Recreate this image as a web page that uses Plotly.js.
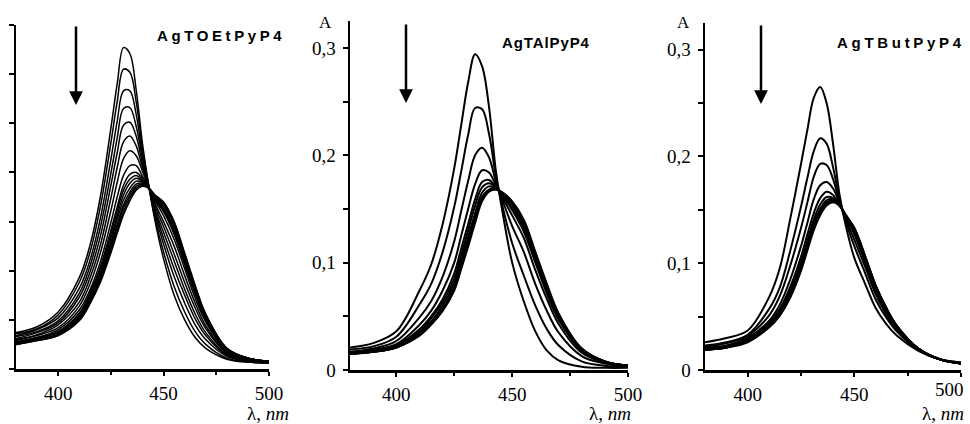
<!DOCTYPE html>
<html>
<head>
<meta charset="utf-8">
<script src="https://cdn.plot.ly/plotly-3.0.1.min.js"></script>
<style>
html,body{margin:0;padding:0;background:#fff;}
#chart{width:970px;height:424px;}
</style>
</head>
<body>
<div id="chart"></div>
<script>
// ---- DATA ----
const WAVELENGTHS = [380,390,400,410,415,420,425,428,431,434,437,440,443,446,450,455,460,465,470,480,490,500];

// Panel 1: AgTOEtPyP4 (absorbance, no y labels in the reference)
const AgTOEtPyP4 = [
  [.037,.043,.058,.093,.125,.175,.245,.290,.327,.321,.284,.229,.186,.150,.112,.075,.050,.032,.021,.010,.007,.006],
  [.036,.041,.055,.088,.118,.165,.230,.272,.305,.302,.272,.224,.186,.153,.119,.084,.058,.038,.025,.011,.007,.006],
  [.034,.040,.052,.082,.110,.153,.213,.252,.283,.283,.259,.218,.186,.157,.127,.094,.067,.045,.030,.013,.008,.006],
  [.033,.038,.049,.077,.104,.144,.199,.235,.265,.266,.247,.214,.185,.160,.133,.102,.075,.051,.034,.014,.008,.007],
  [.031,.037,.047,.073,.098,.135,.187,.220,.248,.251,.237,.209,.185,.162,.139,.110,.081,.056,.037,.015,.009,.007],
  [.030,.035,.045,.068,.092,.126,.174,.205,.231,.237,.227,.205,.185,.165,.145,.117,.088,.062,.041,.016,.009,.007],
  [.029,.034,.042,.064,.086,.118,.161,.190,.214,.222,.217,.201,.185,.168,.150,.125,.095,.067,.044,.017,.010,.007],
  [.028,.032,.040,.060,.080,.109,.149,.175,.197,.207,.207,.196,.185,.171,.156,.132,.102,.072,.048,.018,.010,.008],
  [.027,.032,.038,.057,.077,.104,.141,.165,.187,.198,.200,.194,.184,.172,.160,.137,.106,.076,.050,.019,.010,.008],
  [.027,.031,.038,.056,.075,.101,.137,.161,.182,.193,.197,.192,.184,.173,.161,.139,.108,.077,.051,.019,.010,.008],
  [.026,.031,.037,.054,.073,.098,.133,.156,.177,.189,.194,.191,.184,.174,.163,.141,.110,.079,.052,.020,.010,.008],
  [.026,.030,.036,.053,.071,.096,.129,.152,.172,.184,.191,.190,.184,.175,.165,.143,.112,.080,.053,.020,.011,.008],
  [.026,.030,.035,.052,.070,.093,.126,.147,.167,.180,.188,.189,.184,.175,.167,.146,.114,.082,.054,.020,.011,.008],
  [.025,.030,.035,.051,.068,.091,.123,.144,.164,.177,.186,.188,.184,.176,.168,.147,.115,.083,.055,.021,.011,.008],
  [.025,.029,.034,.050,.067,.090,.121,.141,.160,.174,.184,.187,.184,.176,.169,.149,.117,.084,.055,.021,.011,.008],
  [.025,.029,.034,.049,.066,.088,.118,.138,.157,.171,.182,.186,.184,.177,.170,.150,.118,.085,.056,.021,.011,.008]
];

// Panel 2: AgTAlPyP4
const AgTAlPyP4 = [
  [.021,.025,.036,.074,.098,.136,.188,.228,.268,.294,.283,.245,.185,.145,.100,.064,.036,.018,.009,.003,.002,.002],
  [.019,.022,.031,.061,.080,.110,.152,.185,.219,.244,.243,.220,.180,.151,.118,.088,.060,.038,.023,.008,.004,.003],
  [.017,.020,.027,.049,.064,.087,.120,.148,.176,.200,.207,.198,.175,.157,.134,.110,.080,.055,.035,.013,.006,.003],
  [.016,.019,.024,.042,.055,.074,.100,.125,.150,.173,.186,.184,.172,.160,.144,.123,.093,.066,.043,.016,.007,.004],
  [.016,.018,.023,.038,.050,.066,.090,.113,.136,.159,.175,.177,.170,.162,.149,.129,.100,.071,.047,.018,.007,.004],
  [.016,.018,.022,.036,.048,.063,.085,.107,.130,.153,.170,.174,.170,.163,.151,.132,.103,.074,.049,.018,.007,.004],
  [.015,.017,.022,.035,.045,.060,.081,.102,.124,.146,.165,.171,.169,.164,.154,.135,.106,.076,.050,.019,.008,.004],
  [.015,.017,.021,.033,.044,.057,.077,.098,.120,.142,.161,.168,.169,.164,.155,.138,.108,.078,.052,.020,.008,.004],
  [.015,.017,.021,.033,.043,.056,.076,.096,.117,.140,.159,.167,.168,.165,.156,.139,.109,.079,.052,.020,.008,.004],
  [.015,.017,.021,.032,.042,.055,.074,.094,.115,.137,.157,.166,.168,.165,.157,.140,.110,.080,.053,.020,.008,.004]
];

// Panel 3: AgTButPyP4
const AgTButPyP4 = [
  [.026,.030,.037,.068,.095,.142,.193,.225,.255,.265,.250,.212,.165,.135,.105,.081,.058,.043,.032,.018,.010,.007],
  [.023,.026,.033,.057,.077,.112,.153,.180,.205,.217,.212,.190,.161,.139,.116,.091,.066,.049,.036,.019,.010,.007],
  [.022,.025,.032,.051,.069,.098,.133,.157,.181,.193,.192,.179,.158,.141,.122,.097,.071,.052,.037,.019,.010,.006],
  [.021,.023,.030,.046,.061,.085,.116,.138,.160,.173,.176,.170,.157,.143,.127,.101,.074,.055,.039,.020,.010,.006],
  [.020,.022,.029,.044,.057,.078,.106,.127,.147,.161,.167,.164,.155,.144,.129,.104,.076,.056,.040,.020,.010,.006],
  [.020,.022,.029,.042,.055,.074,.101,.121,.141,.155,.162,.161,.155,.144,.131,.105,.077,.057,.040,.020,.010,.006],
  [.019,.021,.028,.041,.053,.072,.098,.118,.137,.151,.159,.160,.155,.145,.132,.106,.078,.057,.041,.020,.010,.006],
  [.019,.021,.027,.041,.052,.070,.096,.115,.135,.149,.157,.159,.154,.145,.132,.106,.079,.058,.041,.020,.010,.006],
  [.019,.021,.027,.040,.051,.069,.094,.114,.133,.147,.155,.158,.154,.145,.133,.107,.079,.058,.041,.020,.010,.006],
  [.019,.021,.026,.040,.051,.068,.093,.112,.131,.145,.154,.157,.154,.145,.133,.107,.079,.058,.041,.020,.010,.006]
];

const PANEL_NAMES = ['AgTOEtPyP4','AgTAlPyP4','AgTButPyP4'];
const X_TICKS = [400,450,500];
const X_TICK_TEXT = ['400','450','500'];
const Y_TICKS = [0,0.1,0.2,0.3];
const Y_TICK_TEXT = ['0','0,1','0,2','0,3'];

// ---- BUILD ----
const W = 970, H = 424;
const px = v => v / W;
const py = v => 1 - v / H;

const traces = [];
function addPanel(curves, xa, ya, lw){
  curves.forEach(c => traces.push({
    x: WAVELENGTHS, y: c, xaxis: xa, yaxis: ya, type: 'scatter', mode: 'lines',
    line: {color: '#000', width: lw, shape: 'spline', smoothing: 1},
    hoverinfo: 'skip', showlegend: false
  }));
}
addPanel(AgTOEtPyP4, 'x', 'y', 1.5);
addPanel(AgTAlPyP4, 'x2', 'y2', 2);
addPanel(AgTButPyP4, 'x3', 'y3', 2);

const serif = '"Liberation Serif", "Times New Roman", serif';
function xAxis(d0, d1, anchor, hideLast){
  return {
    domain: [px(d0), px(d1)], anchor: anchor, range: [380, 500],
    tickmode: 'array', tickvals: X_TICKS,
    ticktext: X_TICK_TEXT.map((t, i) => (hideLast && i === X_TICK_TEXT.length - 1) ? '' : t),
    ticks: 'outside', ticklen: 4, tickwidth: 2, tickcolor: '#000',
    minor: {tickmode: 'linear', tick0: 0, dtick: 25, ticks: 'outside', ticklen: 3, tickwidth: 2, tickcolor: '#000'},
    showline: true, linewidth: 2.5, linecolor: '#000', showgrid: false, zeroline: false,
    tickfont: {family: serif, size: 19, color: '#000'}, ticklabelstandoff: 2, fixedrange: true
  };
}
function yAxis(top, bottom, anchor, range, labels){
  const a = {
    domain: [py(bottom), py(top)], anchor: anchor, range: range,
    ticks: 'outside', ticklen: 5, tickwidth: 2, tickcolor: '#000',
    showline: true, linewidth: 2.5, linecolor: '#000', showgrid: false, zeroline: false,
    tickfont: {family: serif, size: 19, color: '#000'}, fixedrange: true
  };
  if (labels){
    a.tickmode = 'array'; a.tickvals = Y_TICKS; a.ticktext = Y_TICK_TEXT;
    a.minor = {tickmode: 'linear', tick0: 0, dtick: 0.05, ticks: 'outside', ticklen: 5, tickwidth: 2, tickcolor: '#000'};
    a.ticklabelstandoff = 3;
  } else {
    a.tickmode = 'linear'; a.tick0 = 0; a.dtick = 0.05; a.showticklabels = false;
  }
  return a;
}

const annotations = [];
// panel titles
const titlePos = [[155, 36, 3.6], [500, 43, 0.9], [835, 43, 3.7]];
PANEL_NAMES.forEach((n, i) => annotations.push({
  xref: 'paper', yref: 'paper', x: px(titlePos[i][0]), y: py(titlePos[i][1]),
  xanchor: 'left', yanchor: 'middle', showarrow: false,
  text: '<span style="letter-spacing:' + titlePos[i][2] + 'px">' + n + '</span>',
  font: {family: '"Liberation Sans", Arial, sans-serif', size: 15, color: '#000', weight: 'bold'}
}));
// last tick label of the third panel, pulled inside the page as in the reference
annotations.push({
  xref: 'paper', yref: 'paper', x: px(966), y: py(389), xanchor: 'right', yanchor: 'middle',
  showarrow: false, text: X_TICK_TEXT[2], font: {family: serif, size: 19, color: '#000'}
});
// axis labels
[[291, 413], [633, 413], [966, 413]].forEach(p => annotations.push({
  xref: 'paper', yref: 'paper', x: px(p[0]), y: py(p[1]), xanchor: 'right', yanchor: 'middle',
  showarrow: false, text: 'λ, <i>nm</i>', font: {family: serif, size: 19, color: '#000'}
}));
[[325, 22], [683, 23]].forEach(p => annotations.push({
  xref: 'paper', yref: 'paper', x: px(p[0]), y: py(p[1]), xanchor: 'center', yanchor: 'middle',
  showarrow: false, text: 'A', font: {family: serif, size: 17, color: '#000'}
}));
// arrows
[[76, 105], [406, 103], [761, 104]].forEach(p => annotations.push({
  xref: 'paper', yref: 'paper', x: px(p[0]), y: py(p[1]), ax: 0, ay: -80, text: '',
  showarrow: true, arrowhead: 2, arrowsize: 1.1, arrowwidth: 2.5, arrowcolor: '#000', standoff: 0
}));

const layout = {
  width: W, height: H, autosize: false,
  margin: {l: 0, r: 0, t: 0, b: 0, pad: 0},
  paper_bgcolor: '#fff', plot_bgcolor: 'rgba(0,0,0,0)', showlegend: false,
  xaxis: xAxis(16, 269, 'y', false),
  yaxis: yAxis(25, 369, 'x', [0, 0.35], false),
  xaxis2: xAxis(350, 628, 'y2', false),
  yaxis2: yAxis(21, 370, 'x2', [0, 0.325], true),
  xaxis3: xAxis(705, 961, 'y3', true),
  yaxis3: yAxis(23, 370, 'x3', [0, 0.325], true),
  annotations: annotations
};

Plotly.newPlot('chart', traces, layout, {staticPlot: true, displayModeBar: false});
</script>
</body>
</html>
